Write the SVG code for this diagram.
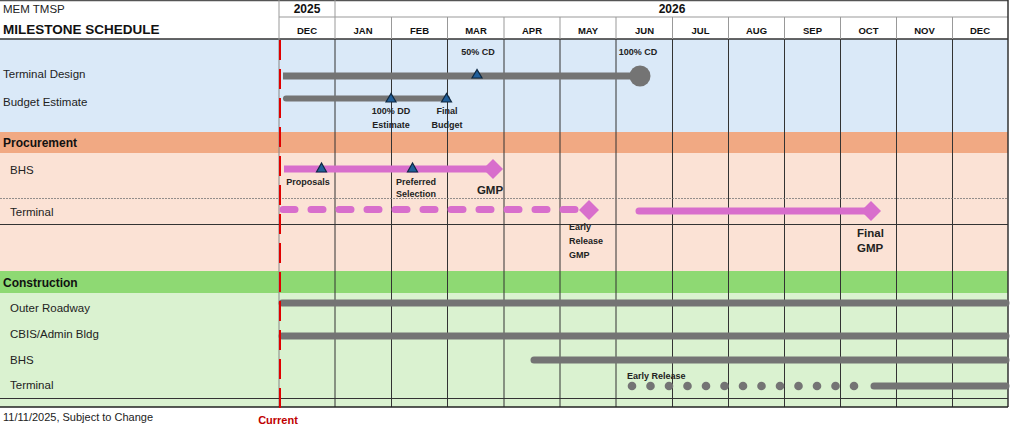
<svg xmlns="http://www.w3.org/2000/svg" width="1024" height="426" viewBox="0 0 1024 426">
<style>
.lbl{font-family:"Liberation Sans",Arial,sans-serif;font-size:11.5px;fill:#222}
.sec{font-family:"Liberation Sans",Arial,sans-serif;font-size:12px;font-weight:bold;fill:#111}
.mon{font-family:"Liberation Sans",Arial,sans-serif;font-size:9.5px;font-weight:bold;fill:#111;text-anchor:middle}
.yr{font-family:"Liberation Sans",Arial,sans-serif;font-size:12px;font-weight:bold;fill:#111}
.ms{font-family:"Liberation Sans Narrow","Liberation Sans",Arial,sans-serif;font-size:9px;font-weight:bold;fill:#222}
.msc{font-family:"Liberation Sans Narrow","Liberation Sans",Arial,sans-serif;font-size:9px;font-weight:bold;fill:#222;text-anchor:middle}
.big{font-family:"Liberation Sans Narrow","Liberation Sans",Arial,sans-serif;font-size:11.5px;font-weight:bold;fill:#222}
.grid{stroke:#333;stroke-width:1}
.hgrid{stroke:#999;stroke-width:1}
.gray{stroke:#747474;stroke-width:7;stroke-linecap:round;fill:none}
.pink{stroke:#d86ecc;stroke-width:7;stroke-linecap:round;fill:none}
.tri{fill:#215f9a;stroke:#0e2841;stroke-width:1.2}
.dia{fill:#d86ecc}
</style>
<rect x="0" y="0" width="1024" height="426" fill="#fff"/>
<!-- section backgrounds -->
<rect x="0" y="39" width="1008" height="93" fill="#dae9f8"/>
<rect x="0" y="132" width="1008" height="21" fill="#f1a983"/>
<rect x="0" y="153" width="1008" height="118" fill="#fbe2d5"/>
<rect x="0" y="271" width="1008" height="22" fill="#8ed973"/>
<rect x="0" y="293" width="1008" height="114" fill="#daf2d0"/>
<!-- header lines -->
<g id="header-grid">
<line x1="0" y1="0.5" x2="1008" y2="0.5" stroke="#555" stroke-width="1.5"/>
<line x1="335" y1="17" x2="1008" y2="17" class="hgrid"/>
<line x1="279" y1="17" x2="335" y2="17" class="hgrid"/>
<line x1="0" y1="39" x2="1008" y2="39" stroke="#333" stroke-width="1.5"/>
<line x1="279" y1="0" x2="279" y2="39" class="hgrid"/>
<line x1="335" y1="0" x2="335" y2="39" class="hgrid"/>
<line x1="391.5" y1="17" x2="391.5" y2="39" class="hgrid"/>
<line x1="447.5" y1="17" x2="447.5" y2="39" class="hgrid"/>
<line x1="504" y1="17" x2="504" y2="39" class="hgrid"/>
<line x1="560" y1="17" x2="560" y2="39" class="hgrid"/>
<line x1="616" y1="17" x2="616" y2="39" class="hgrid"/>
<line x1="672.5" y1="17" x2="672.5" y2="39" class="hgrid"/>
<line x1="728.5" y1="17" x2="728.5" y2="39" class="hgrid"/>
<line x1="784.5" y1="17" x2="784.5" y2="39" class="hgrid"/>
<line x1="840.5" y1="17" x2="840.5" y2="39" class="hgrid"/>
<line x1="896.5" y1="17" x2="896.5" y2="39" class="hgrid"/>
<line x1="952.5" y1="17" x2="952.5" y2="39" class="hgrid"/>
</g>
<!-- body grid -->
<g id="body-grid">
<line x1="279" y1="39" x2="279" y2="407" stroke="#888" stroke-width="1"/>
<line x1="335" y1="39" x2="335" y2="407" class="grid"/>
<line x1="391.5" y1="39" x2="391.5" y2="407" class="grid"/>
<line x1="447.5" y1="39" x2="447.5" y2="407" class="grid"/>
<line x1="504" y1="39" x2="504" y2="407" class="grid"/>
<line x1="560" y1="39" x2="560" y2="407" class="grid"/>
<line x1="616" y1="39" x2="616" y2="407" class="grid"/>
<line x1="672.5" y1="39" x2="672.5" y2="407" class="grid"/>
<line x1="728.5" y1="39" x2="728.5" y2="407" class="grid"/>
<line x1="784.5" y1="39" x2="784.5" y2="407" class="grid"/>
<line x1="840.5" y1="39" x2="840.5" y2="407" class="grid"/>
<line x1="896.5" y1="39" x2="896.5" y2="407" class="grid"/>
<line x1="952.5" y1="39" x2="952.5" y2="407" class="grid"/>
<line x1="1008" y1="0" x2="1008" y2="407" stroke="#333" stroke-width="1.5"/>
<line x1="0" y1="198.5" x2="1008" y2="198.5" stroke="#777" stroke-width="0.8" stroke-dasharray="2 1"/>
<line x1="0" y1="224.5" x2="1008" y2="224.5" stroke="#333" stroke-width="1"/>
<line x1="0" y1="398.5" x2="1008" y2="398.5" stroke="#333" stroke-width="1"/>
<line x1="0" y1="407" x2="1008" y2="407" stroke="#222" stroke-width="1.5"/>
</g>
<!-- header text -->
<g id="title">
<text x="3" y="13" class="lbl" style="font-size:11.5px">MEM TMSP</text>
<text x="3" y="34" class="yr" style="font-size:13.5px">MILESTONE SCHEDULE</text>
</g>
<g id="years">
<text x="307" y="13" class="yr" text-anchor="middle">2025</text>
<text x="672" y="13" class="yr" text-anchor="middle">2026</text>
</g>
<g id="months">
<text x="307" y="34" class="mon">DEC</text>
<text x="363" y="34" class="mon">JAN</text>
<text x="419.5" y="34" class="mon">FEB</text>
<text x="476" y="34" class="mon">MAR</text>
<text x="532" y="34" class="mon">APR</text>
<text x="588" y="34" class="mon">MAY</text>
<text x="644.5" y="34" class="mon">JUN</text>
<text x="700.5" y="34" class="mon">JUL</text>
<text x="756.5" y="34" class="mon">AUG</text>
<text x="812.5" y="34" class="mon">SEP</text>
<text x="868.5" y="34" class="mon">OCT</text>
<text x="924.5" y="34" class="mon">NOV</text>
<text x="980" y="34" class="mon">DEC</text>
</g>
<!-- row labels -->
<g id="row-labels">
<text x="3" y="78" class="lbl">Terminal Design</text>
<text x="3" y="106" class="lbl">Budget Estimate</text>
<text x="3" y="147" class="sec">Procurement</text>
<text x="10" y="174" class="lbl">BHS</text>
<text x="10" y="216" class="lbl">Terminal</text>
<text x="3" y="287" class="sec">Construction</text>
<text x="10" y="312" class="lbl">Outer Roadway</text>
<text x="10" y="338" class="lbl">CBIS/Admin Bldg</text>
<text x="10" y="364" class="lbl">BHS</text>
<text x="10" y="389" class="lbl">Terminal</text>
</g>
<!-- connectors / bars -->
<g id="bars">
<line x1="283" y1="76" x2="640" y2="76" class="gray" style="stroke-linecap:butt"/>
<line x1="286" y1="98.5" x2="447" y2="98.5" class="gray" style="stroke-width:6"/>
<line x1="284" y1="169" x2="490" y2="169" class="pink" style="stroke-linecap:butt"/>
<line x1="283" y1="209.5" x2="578" y2="209.5" class="pink" stroke-dasharray="12 16"/>
<line x1="639" y1="211" x2="868" y2="211" class="pink"/>
<line x1="282" y1="303" x2="1006" y2="303" class="gray"/>
<line x1="282" y1="336" x2="1006" y2="336" class="gray"/>
<line x1="534" y1="360" x2="1006" y2="360" class="gray"/>
<line x1="874" y1="386" x2="1006" y2="386" class="gray"/>
<g fill="#747474">
<circle cx="632" cy="386" r="4.3"/><circle cx="650.5" cy="386" r="4.3"/><circle cx="669" cy="386" r="4.3"/><circle cx="687.5" cy="386" r="4.3"/><circle cx="706" cy="386" r="4.3"/><circle cx="724.5" cy="386" r="4.3"/><circle cx="743" cy="386" r="4.3"/><circle cx="761.5" cy="386" r="4.3"/><circle cx="780" cy="386" r="4.3"/><circle cx="798.5" cy="386" r="4.3"/><circle cx="817" cy="386" r="4.3"/><circle cx="835.5" cy="386" r="4.3"/><circle cx="854" cy="386" r="4.3"/>
</g>
</g>
<!-- milestones -->
<g id="m-terminal-design">
<polygon points="477,69.5 472,78 482,78" class="tri"/>
<text x="478" y="55" class="msc">50% CD</text>
<circle cx="640" cy="76" r="10.5" fill="#747474"/>
<text x="638" y="55" class="msc">100% CD</text>
</g>
<g id="m-budget">
<polygon points="391,93.5 386,102 396,102" class="tri"/>
<polygon points="446.5,93.5 441.5,102 451.5,102" class="tri"/>
<text x="391" y="114" class="msc">100% DD</text>
<text x="391" y="128" class="msc">Estimate</text>
<text x="447" y="114" class="msc">Final</text>
<text x="447" y="128" class="msc">Budget</text>
</g>
<g id="m-bhs-proc">
<polygon points="321.5,163 316.5,172 326.5,172" class="tri"/>
<polygon points="412.5,163 407.5,172 417.5,172" class="tri"/>
<polygon points="493,159 503,169 493,179 483,169" class="dia"/>
<text x="308" y="185" class="msc">Proposals</text>
<text x="416" y="185" class="msc">Preferred</text>
<text x="416" y="197" class="msc">Selection</text>
<text x="490" y="194" class="big" text-anchor="middle">GMP</text>
</g>
<g id="m-terminal-proc">
<polygon points="589,200 599,210 589,220 579,210" class="dia"/>
<text x="569" y="230" class="ms">Early</text>
<text x="569" y="244" class="ms">Release</text>
<text x="569" y="258" class="ms">GMP</text>
<polygon points="871,201 881,211 871,221 861,211" class="dia"/>
<text x="857" y="237" class="big">Final</text>
<text x="857" y="252" class="big">GMP</text>
</g>
<g id="m-terminal-constr">
<text x="627" y="379" class="ms">Early Release</text>
</g>
<!-- current line -->
<g id="current">
<line x1="280" y1="40" x2="280" y2="414" stroke="#e00000" stroke-width="2" stroke-dasharray="20 9"/>
<text x="278" y="424" font-family="Liberation Sans, Arial, sans-serif" font-size="11" font-weight="bold" fill="#c00000" text-anchor="middle">Current</text>
</g>
<g id="footer">
<text x="3" y="421" class="lbl" style="font-size:11px">11/11/2025, Subject to Change</text>
</g>
</svg>
